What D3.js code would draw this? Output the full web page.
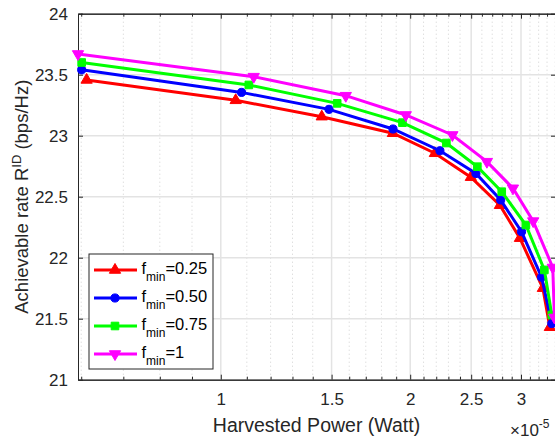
<!DOCTYPE html>
<html>
<head>
<meta charset="utf-8">
<script src="https://cdn.jsdelivr.net/npm/d3@7"></script>
<style>
  html, body { margin: 0; padding: 0; background: #fff; }
  svg { display: block; font-family: "Liberation Sans", Arial, Helvetica, sans-serif; }
</style>
</head>
<body>
<svg id="chart" width="555" height="439"></svg>
<script>
// Harvested power in units of 1e-5 W
const xTickLabels = [1, 1.5, 2, 2.5, 3];
const yTickLabels = [21, 21.5, 22, 22.5, 23, 23.5, 24];
const seriesNames = ["0.25", "0.50", "0.75", "1"];

const x025 = [0.612, 1.056, 1.447, 1.877, 2.189, 2.497, 2.777, 2.988, 3.250, 3.334];
const y025 = [23.457, 23.29, 23.156, 23.02, 22.856, 22.66, 22.43, 22.16, 21.75, 21.43];
const x050 = [0.601, 1.079, 1.486, 1.878, 2.230, 2.544, 2.785, 3.006, 3.235, 3.358];
const y050 = [23.54, 23.355, 23.216, 23.055, 22.877, 22.69, 22.473, 22.213, 21.84, 21.46];
const x075 = [0.601, 1.108, 1.531, 1.944, 2.283, 2.557, 2.796, 3.054, 3.268, 3.358];
const y075 = [23.60, 23.416, 23.265, 23.107, 22.94, 22.746, 22.541, 22.268, 21.90, 21.53];
const x100 = [0.593, 1.128, 1.580, 1.968, 2.334, 2.648, 2.913, 3.137, 3.370, 3.390];
const y100 = [23.67, 23.484, 23.328, 23.17, 23.006, 22.787, 22.569, 22.30, 21.92, 21.51];

const xDomain = [0.593, 3.41];
const yDomain = [21, 24];

const series = [
  { name: seriesNames[0], xs: x025, ys: y025, color: "#ff0000", shape: "triUp" },
  { name: seriesNames[1], xs: x050, ys: y050, color: "#0000ff", shape: "circle" },
  { name: seriesNames[2], xs: x075, ys: y075, color: "#00ff00", shape: "square" },
  { name: seriesNames[3], xs: x100, ys: y100, color: "#ff00ff", shape: "triDown" }
];

const L = 78, R = 556, T = 13.7, B = 379.7;
const axisColor = "#262626";
const svg = d3.select("#chart");

const x = d3.scaleLog().domain(xDomain).range([L, R]);
const y = d3.scaleLinear().domain(yDomain).range([B, T]);

// minor ticks every 0.1 (x1e-5)
const minorX = d3.range(6, 35).map(d => d / 10).filter(v => !xTickLabels.some(t => Math.abs(t - v) < 1e-9) && v >= xDomain[0] && v <= xDomain[1]);

// Grid
const grid = svg.append("g");
grid.selectAll(".mgx").data(minorX).join("line")
  .attr("x1", d => x(d)).attr("x2", d => x(d)).attr("y1", T).attr("y2", B)
  .attr("stroke", "#d0d0d0").attr("stroke-width", 1).attr("stroke-dasharray", "1,3");
grid.selectAll(".gx").data(xTickLabels).join("line")
  .attr("x1", d => x(d)).attr("x2", d => x(d)).attr("y1", T).attr("y2", B)
  .attr("stroke", "#e3e3e3").attr("stroke-width", 1.5);
grid.selectAll(".gy").data(yTickLabels).join("line")
  .attr("x1", L).attr("x2", R).attr("y1", d => y(d)).attr("y2", d => y(d))
  .attr("stroke", "#e3e3e3").attr("stroke-width", 1.5);

// Axes
function styleAxis(g) {
  g.selectAll("path.domain").attr("stroke", axisColor).attr("stroke-width", 1);
  g.selectAll(".tick line").attr("stroke", axisColor).attr("stroke-width", 1);
  g.selectAll(".tick text").attr("fill", axisColor).attr("font-size", 17)
    .attr("font-family", "'Liberation Sans', Arial, Helvetica, sans-serif");
}
const fmt = d => String(d);

const xAxis = svg.append("g").attr("transform", `translate(0,${B})`)
  .call(d3.axisBottom(x).tickValues(xTickLabels).tickFormat(fmt).tickSizeInner(-5).tickSizeOuter(0).tickPadding(13));
styleAxis(xAxis);
const xMinor = svg.append("g").attr("transform", `translate(0,${B})`)
  .call(d3.axisBottom(x).tickValues(minorX).tickFormat("").tickSizeInner(-3).tickSizeOuter(0));
styleAxis(xMinor);
const xTop = svg.append("g").attr("transform", `translate(0,${T})`)
  .call(d3.axisTop(x).tickValues(xTickLabels).tickFormat("").tickSizeInner(-5).tickSizeOuter(0));
styleAxis(xTop);
const xTopMinor = svg.append("g").attr("transform", `translate(0,${T})`)
  .call(d3.axisTop(x).tickValues(minorX).tickFormat("").tickSizeInner(-3).tickSizeOuter(0));
styleAxis(xTopMinor);

const yAxis = svg.append("g").attr("transform", `translate(${L},0)`)
  .call(d3.axisLeft(y).tickValues(yTickLabels).tickFormat(fmt).tickSizeInner(-5).tickSizeOuter(0).tickPadding(10));
styleAxis(yAxis);
const yRight = svg.append("g").attr("transform", `translate(${R},0)`)
  .call(d3.axisRight(y).tickValues(yTickLabels).tickFormat("").tickSizeInner(-5).tickSizeOuter(0));
styleAxis(yRight);

// Axis labels
svg.append("text").attr("x", 316.5).attr("y", 432)
  .attr("text-anchor", "middle").attr("font-size", 19.5).attr("fill", axisColor)
  .text("Harvested Power (Watt)");
const mult = svg.append("text").attr("x", 510).attr("y", 436).attr("font-size", 17).attr("fill", axisColor);
mult.append("tspan").text("\u00d710");
mult.append("tspan").attr("dy", -8).attr("font-size", 12).text("-5");

const yl = svg.append("text").attr("transform", `translate(28,${(T + B) / 2}) rotate(-90)`)
  .attr("text-anchor", "middle").attr("font-size", 18.5).attr("fill", axisColor);
yl.append("tspan").text("Achievable rate R");
yl.append("tspan").attr("dy", -7).attr("font-size", 13).text("ID");
yl.append("tspan").attr("dy", 7).text(" (bps/Hz)");

// Markers
const symFor = {
  triUp: d3.symbol().type(d3.symbolTriangle).size(55),
  triDown: d3.symbol().type(d3.symbolTriangle).size(55),
  circle: d3.symbol().type(d3.symbolCircle).size(52),
  square: d3.symbol().type(d3.symbolSquare).size(58)
};
const line = d3.line().x(d => x(d[0])).y(d => y(d[1]));

const clipId = "plotclip";
svg.append("clipPath").attr("id", clipId).append("rect")
  .attr("x", L).attr("y", T).attr("width", R - L).attr("height", B - T);

series.forEach(s => {
  const pts = s.xs.map((v, i) => [v, s.ys[i]]);
  const g = svg.append("g");
  g.append("path").datum(pts).attr("d", line)
    .attr("fill", "none").attr("stroke", s.color).attr("stroke-width", 3)
    .attr("clip-path", `url(#${clipId})`);
  g.selectAll("path.m").data(pts).join("path").attr("class", "m")
    .attr("d", symFor[s.shape])
    .attr("transform", d => `translate(${x(d[0])},${y(d[1])})` + (s.shape === "triDown" ? " rotate(180)" : ""))
    .attr("fill", s.color).attr("stroke", s.color).attr("stroke-width", 1);
});

// Legend
const lg = svg.append("g");
lg.append("rect").attr("x", 89).attr("y", 254).attr("width", 124).attr("height", 115)
  .attr("fill", "#fff").attr("stroke", axisColor).attr("stroke-width", 1);
series.forEach((s, i) => {
  const cy = 270 + i * 28;
  lg.append("line").attr("x1", 94).attr("x2", 137).attr("y1", cy).attr("y2", cy)
    .attr("stroke", s.color).attr("stroke-width", 3);
  lg.append("path").attr("d", symFor[s.shape])
    .attr("transform", `translate(115,${cy})` + (s.shape === "triDown" ? " rotate(180)" : ""))
    .attr("fill", s.color).attr("stroke", s.color);
  const t = lg.append("text").attr("x", 141.5).attr("y", cy + 4).attr("font-size", 16.5).attr("fill", "#000");
  t.append("tspan").text("f");
  t.append("tspan").attr("dy", 7).attr("font-size", 12).text("min");
  t.append("tspan").attr("dy", -7).text("=" + s.name);
});
</script>
</body>
</html>
